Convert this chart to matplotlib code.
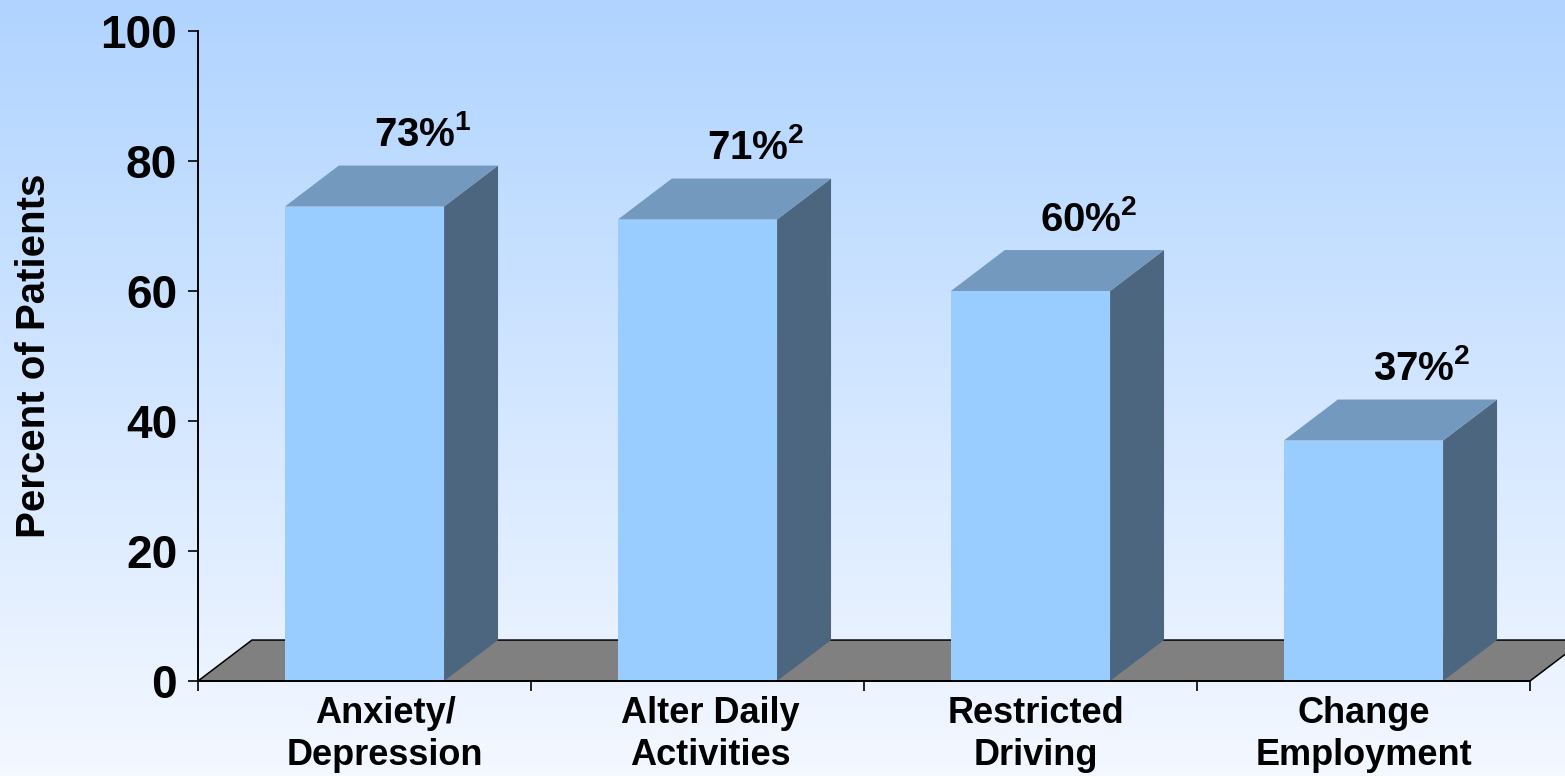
import numpy as np
import matplotlib
matplotlib.use("Agg")
import matplotlib.pyplot as plt
from matplotlib.patches import Polygon, Rectangle

plt.rcParams['font.family'] = ['Liberation Sans', 'DejaVu Sans']
plt.rcParams['font.weight'] = 'bold'
plt.rcParams['mathtext.fontset'] = 'custom'
plt.rcParams['mathtext.rm'] = 'Liberation Sans'
plt.rcParams['mathtext.bf'] = 'Liberation Sans:bold'

categories = ['Anxiety/\nDepression', 'Alter Daily\nActivities',
              'Restricted\nDriving', 'Change\nEmployment']
values = [73, 71, 60, 37]
refs = ['1', '2', '2', '2']
yticks = [0, 20, 40, 60, 80, 100]

front_col = '#99ccff'
top_col = '#7399bf'
side_col = '#4d6680'
floor_col = '#808080'

# 3d depth offset (x in category units, y in percent units)
dx, dy = 0.162, 6.3
bw = 0.478
# category labels sit a little right of the slot centre in the original
label_shift = [15, 9, 4, 0]  # points

fig = plt.figure(figsize=(15.65, 7.76), dpi=100)

# background gradient
bg = fig.add_axes([0, 0, 1, 1], zorder=0)
top_rgb = np.array([176, 212, 255]) / 255
bot_rgb = np.array([244, 248, 255]) / 255
t = np.linspace(0, 1, 256)[:, None]
grad = top_rgb[None, :] * (1 - t) + bot_rgb[None, :] * t
bg.imshow(grad[:, None, :], aspect='auto', extent=[0, 1, 0, 1])
bg.axis('off')

ax = fig.add_axes([198 / 1565, 95 / 776, 1332 / 1565, 650 / 776], zorder=1)
ax.patch.set_alpha(0)
ax.set_xlim(0, len(categories))
ax.set_ylim(0, 100)

# floor
floor = Polygon([(0, 0), (len(categories), 0), (len(categories) + dx, dy), (dx, dy)],
                closed=True, facecolor=floor_col, edgecolor='black', lw=1.1,
                clip_on=False, zorder=1)
ax.add_patch(floor)

for i, v in enumerate(values):
    c = i + 0.5
    x0, x1 = c - bw / 2, c + bw / 2
    ax.add_patch(Polygon([(x1, 0), (x1 + dx, dy), (x1 + dx, v + dy), (x1, v)],
                         closed=True, facecolor=side_col, lw=0, zorder=2, clip_on=False))
    ax.add_patch(Polygon([(x0, v), (x1, v), (x1 + dx, v + dy), (x0 + dx, v + dy)],
                         closed=True, facecolor=top_col, lw=0, zorder=2, clip_on=False))
    ax.add_patch(Rectangle((x0, 0), bw, v, facecolor=front_col, lw=0, zorder=3))
    ax.annotate(f"{v}%$^{{{refs[i]}}}$", xy=(c + 0.175, v + dy), xytext=(0, 14),
                textcoords='offset points', ha='center', va='baseline',
                fontsize=29, fontweight='bold', zorder=4)
    ax.annotate(categories[i], xy=(c, 0), xycoords=('data', 'axes fraction'),
                xytext=(label_shift[i], -11), textcoords='offset points',
                ha='center', va='top', fontsize=26, fontweight='bold',
                linespacing=1.25, annotation_clip=False)

for side in ['top', 'right']:
    ax.spines[side].set_visible(False)
for side in ['left', 'bottom']:
    ax.spines[side].set_linewidth(1.4)
    ax.spines[side].set_zorder(5)

ax.set_yticks(yticks)
ax.set_yticklabels([str(y) for y in yticks], fontsize=33, fontweight='bold')
ax.tick_params(axis='y', direction='out', length=7, width=1.2, pad=8)

ax.set_xticks(range(len(categories) + 1))
ax.set_xticklabels([])
ax.tick_params(axis='x', direction='out', length=7, width=1.2)

ax.set_ylabel('Percent of Patients', fontsize=29, fontweight='bold')
ax.yaxis.set_label_coords(-0.109, 0.5)

fig.savefig('out.png', dpi=100)
